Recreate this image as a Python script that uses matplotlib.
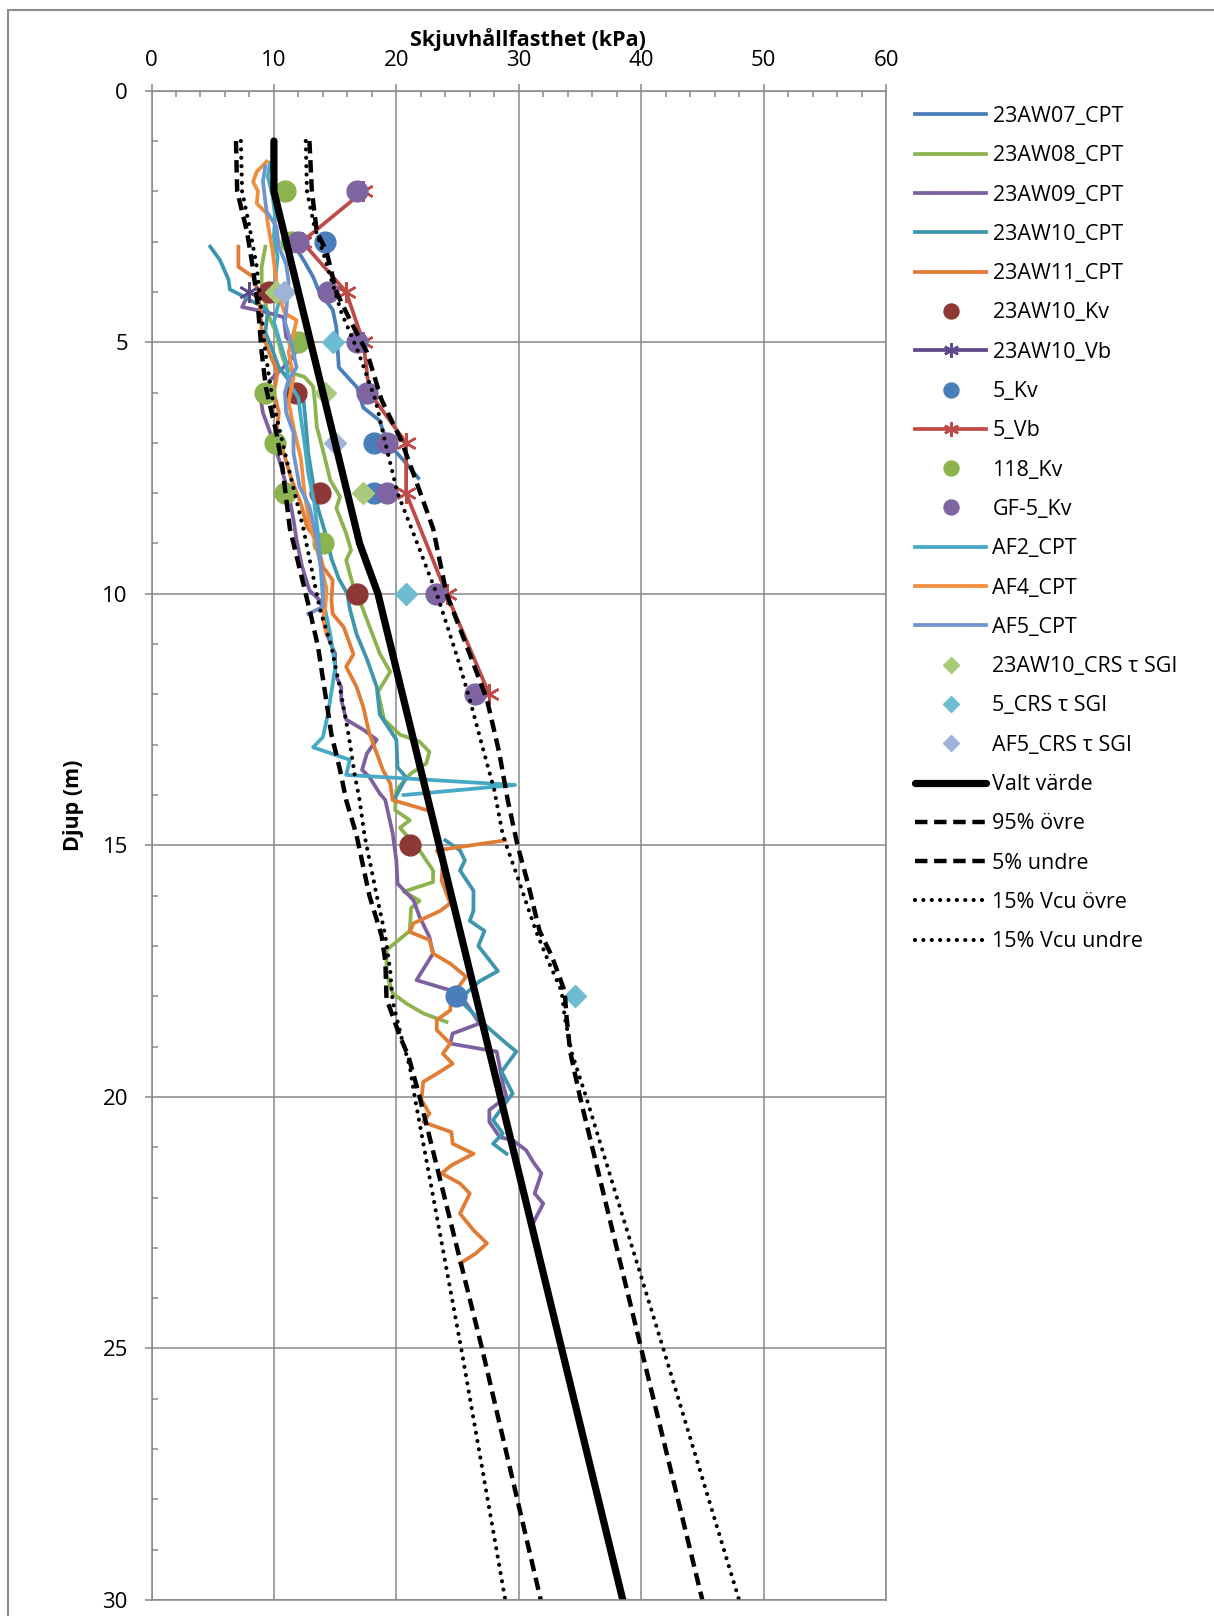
import numpy as np
import matplotlib
matplotlib.use("Agg")
import matplotlib.pyplot as plt
from matplotlib.patches import Rectangle

plt.rcParams['font.family'] = ['Open Sans', 'DejaVu Sans']

nan = float('nan')

# (skjuvhållfasthet kPa, djup m)
aw07_cpt = [(11.5, 3.0), (12.5, 3.4), (13.2, 3.7), (13.7, 4.0), (14.8, 4.35), (15.1, 4.7), (15.3, 5.5),
            (16.8, 5.9), (17.3, 6.3), (18.6, 6.55), (19.3, 7.0), (20.6, 7.35), (21.8, 7.7)]
aw08_cpt = [(9.3, 3.1), (9.0, 3.5), (9.0, 3.9), (9.5, 4.43), (10.2, 4.82), (10.6, 5.22), (11.0, 5.49),
            (11.6, 5.62), (12.5, 5.69), (13.2, 5.88), (13.35, 6.2), (13.5, 6.68), (14.0, 7.14), (14.6, 7.74),
            (15.4, 8.07), (15.1, 8.3), (15.9, 8.8), (16.3, 9.13), (15.9, 9.33), (16.2, 9.6), (16.5, 9.86),
            (17.2, 10.26), (18.65, 11.19), (19.5, 11.55), (18.5, 11.95), (19.0, 12.5), (20.3, 12.8),
            (21.9, 12.94), (22.7, 13.14), (22.45, 13.37), (21.2, 13.57), (20.0, 13.9), (19.9, 14.3),
            (21.1, 14.5), (20.3, 14.65), (21.9, 15.1), (23.0, 15.5), (23.0, 15.73), (20.6, 15.92),
            (21.9, 16.1), (21.2, 16.25), (21.1, 16.7), (19.2, 17.08), (19.2, 17.55), (19.7, 17.94),
            (20.8, 18.14), (22.2, 18.34), (24.1, 18.51)]
aw09_cpt = [(7.9, 4.05), (7.4, 4.3), (9.0, 4.38), (10.8, 4.5), (11.0, 4.9), (11.9, 5.15), (11.2, 5.4),
            (9.7, 5.75), (8.9, 6.1), (9.1, 6.4), (9.7, 6.8), (9.9, 6.94), (10.6, 7.47), (11.3, 8.14),
            (11.6, 8.53), (11.85, 8.93), (12.3, 9.46), (12.9, 9.93), (13.75, 10.13), (14.2, 10.46),
            (14.3, 10.79), (15.0, 11.19), (15.0, 11.6), (15.5, 11.85), (15.5, 12.1), (15.9, 12.5),
            (17.3, 12.7), (18.4, 12.9), (17.6, 13.17), (17.2, 13.5), (17.8, 13.64), (18.65, 13.97),
            (19.1, 14.1), (19.7, 14.76), (20.0, 15.3), (20.1, 15.76), (21.4, 16.09), (21.9, 16.42),
            (22.7, 16.82), (23.0, 17.15), (21.65, 17.68), (24.4, 17.88), (25.7, 18.14), (26.8, 18.54),
            (24.6, 18.74), (24.4, 18.94), (28.2, 19.1), (28.7, 19.73), (29.0, 20.0), (27.6, 20.26),
            (27.6, 20.5), (28.45, 20.8), (29.5, 20.86), (30.6, 21.06), (31.2, 21.3), (31.85, 21.52),
            (31.3, 21.92), (32.0, 22.12), (31.3, 22.45), (31.2, 22.5)]
aw10_cpt = [(4.8, 3.1), (5.6, 3.37), (6.3, 3.76), (6.4, 3.95), (7.2, 4.05), (8.0, 4.16), (9.1, 4.29),
            (9.5, 4.39), (9.3, 4.8), (9.8, 5.1), (10.4, 5.5), (11.7, 5.9), (12.4, 6.1), (12.6, 6.6),
            (12.8, 7.2), (13.2, 7.8), (13.6, 8.3), (14.2, 8.8), (14.7, 9.3), (15.3, 9.7), (16.0, 10.0),
            (16.2, 10.3), (16.75, 10.8), (17.6, 11.3), (18.4, 11.85), (18.65, 12.4), (20.0, 12.9),
            (20.1, 13.45), (20.8, 13.65), (19.8, 14.1), (nan, nan), (24.0, 14.9), (25.2, 15.1),
            (25.6, 15.3), (25.2, 15.5), (26.3, 15.9), (26.3, 16.3), (26.0, 16.5), (27.2, 16.7),
            (26.7, 17.0), (28.3, 17.5), (26.8, 17.7), (25.7, 17.94), (25.45, 18.14), (27.1, 18.54),
            (29.0, 18.94), (29.8, 19.1), (28.6, 19.5), (29.5, 19.93), (27.9, 20.46), (28.7, 20.73),
            (27.9, 20.93), (29.0, 21.13)]
aw11_cpt = [(7.1, 3.1), (7.1, 3.5), (8.3, 3.7), (8.7, 4.0), (8.9, 4.4), (9.0, 4.8), (9.6, 5.2),
            (10.3, 5.6), (10.0, 6.0), (10.4, 6.4), (10.2, 6.8), (10.8, 7.2), (11.4, 7.7), (12.2, 8.2),
            (12.7, 8.67), (13.5, 8.93), (14.0, 9.46), (14.8, 9.73), (14.7, 10.13), (14.8, 10.4),
            (15.7, 10.66), (16.5, 11.2), (15.9, 11.45), (16.75, 11.85), (17.3, 12.25), (17.8, 12.78),
            (18.4, 13.17), (18.9, 13.5), (19.5, 13.77), (19.7, 14.1), (22.5, 14.3), (nan, nan),
            (28.9, 14.9), (23.3, 15.1), (23.8, 15.3), (23.7, 15.7), (24.4, 16.15), (23.6, 16.3),
            (21.4, 16.55), (21.1, 16.72), (22.7, 16.88), (23.0, 17.15), (24.4, 17.35), (25.7, 17.61),
            (24.5, 18.0), (24.4, 18.28), (23.3, 18.47), (23.3, 18.67), (24.4, 18.94), (23.8, 19.14),
            (24.6, 19.34), (23.3, 19.54), (22.2, 19.7), (22.05, 20.06), (22.7, 20.33), (22.2, 20.5),
            (24.5, 20.7), (24.6, 20.93), (26.3, 21.13), (24.5, 21.36), (23.7, 21.52), (25.2, 21.72),
            (26.0, 21.92), (25.2, 22.32), (26.3, 22.65), (27.4, 22.91), (26.5, 23.11), (25.2, 23.31)]
kv_23aw10 = [(9.6, 4.0), (11.8, 6.0), (13.8, 8.0), (16.8, 10.0), (21.1, 15.0)]
vb_23aw10 = [(8.0, 4.0)]
kv_5 = [(14.2, 3.0), (18.2, 7.0), (18.2, 8.0), (24.9, 18.0)]
vb_5 = [(17.3, 2.0), (12.3, 3.0), (15.9, 4.0), (17.3, 5.0), (17.8, 6.0), (20.8, 7.0), (20.8, 8.0),
        (24.1, 10.0), (27.6, 12.0)]
kv_118 = [(10.9, 2.0), (11.4, 3.0), (12.0, 5.0), (9.3, 6.0), (10.1, 7.0), (10.9, 8.0), (14.0, 9.0)]
kv_gf5 = [(16.8, 2.0), (12.0, 3.0), (14.4, 4.0), (16.8, 5.0), (17.6, 6.0), (19.25, 7.0), (19.25, 8.0),
          (23.2, 10.0), (26.4, 12.0)]
af2_cpt = [(9.7, 1.43), (9.5, 1.7), (9.9, 2.1), (10.1, 2.5), (10.0, 2.9), (10.3, 3.3), (10.1, 3.8),
           (10.4, 4.2), (10.0, 4.6), (10.5, 5.0), (11.0, 5.4), (11.2, 5.8), (12.0, 6.1), (12.2, 6.5),
           (12.5, 7.0), (12.8, 7.6), (13.3, 8.2), (13.6, 8.8), (13.8, 9.4), (14.0, 10.1), (14.6, 10.8),
           (15.0, 11.45), (14.8, 11.8), (14.4, 12.4), (14.0, 12.85), (13.2, 13.05), (16.2, 13.3),
           (15.9, 13.6), (29.7, 13.8), (20.6, 14.0)]
af4_cpt = [(9.4, 1.41), (8.6, 1.61), (8.3, 1.81), (8.7, 2.0), (8.6, 2.24), (9.4, 2.44), (9.5, 2.64),
           (9.9, 3.2), (10.1, 3.6), (10.3, 4.0), (10.9, 4.43), (11.85, 4.56), (11.6, 4.82), (11.2, 5.2),
           (11.6, 5.7), (11.2, 6.2), (11.7, 6.8), (12.2, 7.3), (12.5, 8.0), (12.9, 8.6), (13.4, 9.0),
           (13.9, 9.5), (14.3, 9.9), (14.2, 10.26), (14.0, 10.5), (14.3, 10.8)]
af5_cpt = [(9.3, 1.5), (9.1, 1.8), (9.4, 2.4), (10.2, 2.7), (10.4, 3.1), (11.0, 3.45), (11.2, 3.8),
           (11.0, 4.4), (10.9, 4.6), (11.4, 5.0), (11.85, 5.5), (11.2, 5.75), (10.9, 6.0), (11.0, 6.4),
           (11.6, 6.8), (11.6, 7.2), (12.1, 7.87), (12.9, 8.27), (13.1, 8.47), (13.5, 8.93),
           (13.75, 9.33), (14.0, 9.73), (14.0, 10.26), (12.8, 10.4)]
crs_23aw10 = [(10.2, 4.0), (14.2, 6.0), (17.3, 8.0)]
crs_5 = [(14.8, 5.0), (20.8, 10.0), (34.6, 18.0)]
crs_af5 = [(10.8, 4.0), (15.0, 7.0)]
valt_varde = [(10.0, 1.0), (10.0, 2.0), (17.0, 9.0), (18.5, 10.0), (38.5, 30.0)]
ovre_95 = [(12.9, 1.0), (13.1, 2.0), (13.5, 2.8), (14.3, 3.2), (15.1, 4.0), (16.3, 4.6), (17.6, 5.2),
           (18.8, 6.15), (20.4, 6.95), (21.6, 7.75), (23.0, 8.7), (24.1, 10.0), (26.0, 11.2), (27.4, 12.1),
           (28.4, 13.15), (29.1, 14.1), (29.9, 15.0), (30.8, 15.8), (31.7, 16.7), (32.7, 17.2),
           (33.75, 17.9), (33.9, 18.4), (34.2, 19.1), (35.0, 20.0), (40.0, 25.0), (45.0, 30.0)]
undre_5 = [(6.9, 1.0), (7.0, 2.0), (7.8, 2.8), (8.3, 3.55), (8.7, 4.3), (9.0, 5.2), (9.35, 5.9),
           (10.2, 6.8), (10.7, 7.5), (11.3, 8.7), (12.1, 9.5), (12.9, 10.3), (13.6, 11.05), (14.2, 12.0),
           (14.7, 12.8), (15.4, 13.5), (15.9, 14.1), (16.75, 14.8), (17.8, 16.0), (18.8, 16.8),
           (19.1, 17.3), (19.2, 18.05), (20.3, 18.8), (21.0, 19.2), (21.9, 20.0), (27.0, 25.0), (31.8, 30.0)]
vcu_ovre = [(12.6, 1.0), (12.7, 2.0), (13.3, 2.7), (14.0, 3.2), (15.5, 4.4), (16.9, 5.2), (18.3, 6.15),
            (19.1, 7.0), (20.1, 8.0), (21.4, 8.8), (22.5, 9.5), (23.3, 10.0), (24.9, 11.2), (26.0, 12.1),
            (27.1, 13.1), (28.0, 13.9), (28.7, 14.8), (30.0, 15.7), (31.4, 16.7), (32.5, 17.35),
            (33.5, 17.9), (33.75, 18.4), (34.3, 19.1), (35.5, 20.0), (41.8, 25.0), (48.0, 30.0)]
vcu_undre = [(7.3, 1.0), (7.4, 2.0), (8.0, 2.7), (8.6, 3.5), (9.3, 5.2), (9.9, 6.15), (10.9, 7.2),
             (12.4, 8.7), (13.75, 10.3), (14.7, 11.05), (15.5, 12.0), (16.1, 12.8), (16.6, 13.6),
             (17.0, 14.1), (17.4, 14.8), (18.4, 16.0), (19.1, 16.8), (19.5, 17.5), (19.7, 18.1),
             (20.4, 18.8), (21.1, 19.4), (21.5, 20.0), (25.3, 25.0), (28.9, 30.0)]

W, H = 1214, 1616
fig = plt.figure(figsize=(W / 100, H / 100), dpi=100)
ax = fig.add_axes([151.5 / W, 16 / H, (886 - 151.5) / W, (1600 - 90.7) / H])

grey = '#878787'
star = (6, 2, 0)
lw_cpt = 2.7


def xy(pts):
    a = np.array(pts, dtype=float)
    return a[:, 0], a[:, 1]


def cpt(pts, color, label):
    x, y = xy(pts)
    return ax.plot(x, y, color=color, lw=lw_cpt, solid_joinstyle='round', label=label)[0]


def dots(pts, color, label, marker='o', ms=15):
    x, y = xy(pts)
    return ax.plot(x, y, ls='none', marker=marker, ms=ms, color=color, mec=color, label=label)[0]


handles = [
    cpt(aw07_cpt, '#4A7EBB', '23AW07_CPT'),
    cpt(aw08_cpt, '#8DB34E', '23AW08_CPT'),
    cpt(aw09_cpt, '#7D60A0', '23AW09_CPT'),
    cpt(aw10_cpt, '#3D96AE', '23AW10_CPT'),
    cpt(aw11_cpt, '#E07C34', '23AW11_CPT'),
    dots(kv_23aw10, '#8E3836', '23AW10_Kv'),
]
x, y = xy(vb_23aw10)
handles.append(ax.plot(x, y, color='#5E4A8A', lw=lw_cpt, marker=star, ms=15, mew=1.8,
                       label='23AW10_Vb')[0])
handles.append(dots(kv_5, '#4A7EBB', '5_Kv'))
x, y = xy(vb_5)
handles.append(ax.plot(x, y, color='#BE4B48', lw=lw_cpt, marker=star, ms=15, mew=1.8, label='5_Vb')[0])
handles.append(dots(kv_118, '#8DB34E', '118_Kv'))
handles.append(dots(kv_gf5, '#7F64A2', 'GF-5_Kv'))
handles.append(cpt(af2_cpt, '#46AAC5', 'AF2_CPT'))
handles.append(cpt(af4_cpt, '#F38D3E', 'AF4_CPT'))
handles.append(cpt(af5_cpt, '#7094CD', 'AF5_CPT'))
handles.append(dots(crs_23aw10, '#A9C97B', '23AW10_CRS τ SGI', marker='D', ms=11.5))
handles.append(dots(crs_5, '#6DBCD2', '5_CRS τ SGI', marker='D', ms=11.5))
handles.append(dots(crs_af5, '#9FB3D9', 'AF5_CRS τ SGI', marker='D', ms=11.5))

x, y = xy(valt_varde)
handles.append(ax.plot(x, y, color='black', lw=5.2, solid_capstyle='round', label='Valt värde')[0])
x, y = xy(ovre_95)
handles.append(ax.plot(x, y, color='black', lw=3.2, ls=(0, (2.8, 1.5)), label='95% övre')[0])
x, y = xy(undre_5)
handles.append(ax.plot(x, y, color='black', lw=3.2, ls=(0, (2.8, 1.5)), label='5% undre')[0])
x, y = xy(vcu_ovre)
handles.append(ax.plot(x, y, color='black', lw=3.0, ls=(0, (0.01, 2)), dash_capstyle='round',
                       label='15% Vcu övre')[0])
x, y = xy(vcu_undre)
handles.append(ax.plot(x, y, color='black', lw=3.0, ls=(0, (0.01, 2)), dash_capstyle='round',
                       label='15% Vcu undre')[0])

ax.set_xlim(0, 60)
ax.set_ylim(30, 0)
ax.xaxis.tick_top()
ax.set_xticks(np.arange(0, 61, 10))
ax.set_xticks(np.arange(0, 61, 2), minor=True)
ax.set_yticks(np.arange(0, 31, 5))
ax.set_yticks(np.arange(0, 31, 1), minor=True)
ax.grid(True, which='major', color=grey, lw=1.1)
ax.set_axisbelow(True)
ax.tick_params(which='major', direction='out', length=5, width=1.1, color=grey, labelsize=16)
ax.tick_params(axis='x', which='major', pad=9)
ax.tick_params(axis='y', which='major', pad=12)
ax.tick_params(which='minor', direction='in', length=4.3, width=1.1, color=grey)
for s in ax.spines.values():
    s.set_color(grey)
    s.set_linewidth(1.1)

fig.text(528 / W, 1 - 40 / H, 'Skjuvhållfasthet (kPa)', ha='center', va='center',
         fontsize=15.5, fontweight='bold')
fig.text(74 / W, 1 - 805 / H, 'Djup (m)', ha='center', va='center', rotation=90,
         fontsize=15.5, fontweight='bold')

fig.legend(handles=handles, loc='upper left', bbox_to_anchor=(915 / W, 1 - 106 / H),
           frameon=False, fontsize=15.5, borderpad=0, borderaxespad=0, handlelength=3.3,
           handletextpad=0.3, labelspacing=0.85, numpoints=1, markerscale=0.72)

fig.add_artist(Rectangle((8 / W, -0.05), 1.2, 1 - 10 / H + 0.05, transform=fig.transFigure,
                         fill=False, ec='#8c8c8c', lw=1.5))

fig.savefig('out.png', dpi=100)
